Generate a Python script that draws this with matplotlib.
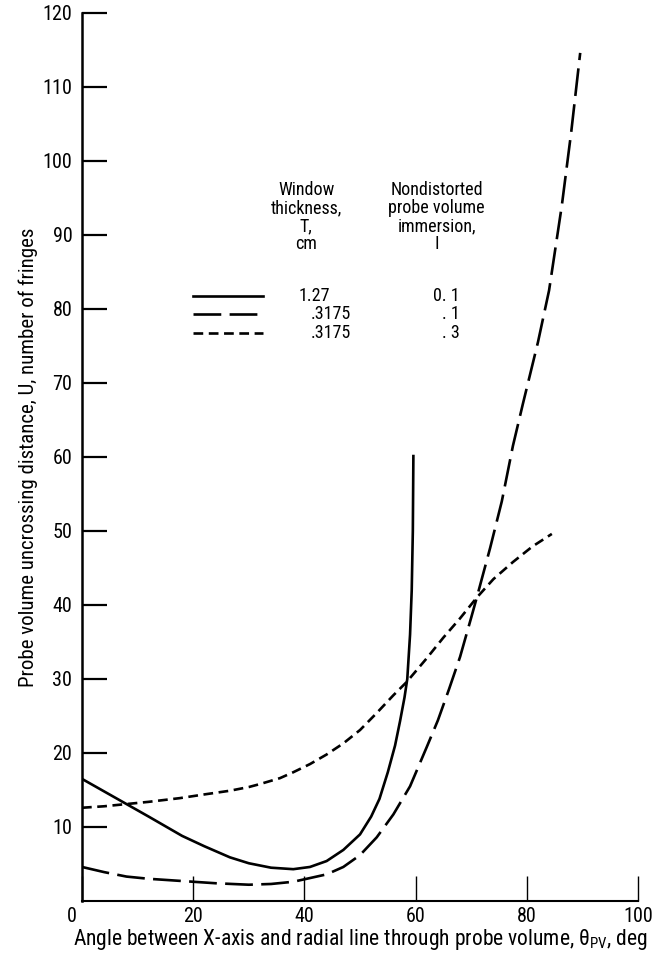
import matplotlib
matplotlib.use("Agg")
import matplotlib.pyplot as plt
import matplotlib.transforms as mtransforms

plt.rcParams['font.family'] = ['Roboto Condensed', 'DejaVu Sans']
plt.rcParams['mathtext.fontset'] = 'custom'
plt.rcParams['mathtext.rm'] = 'Roboto Condensed'
plt.rcParams['lines.scale_dashes'] = False

# Window thickness 1.27 cm, immersion 0.1
solid_x = [0, 4, 8, 12, 18, 22, 26.6, 30, 34, 38, 41, 44, 47, 50, 52, 53.5,
           55, 56.3, 57.2, 58, 58.5, 59, 59.3, 59.5, 59.6]
solid_y = [16.5, 14.8, 13.1, 11.4, 8.8, 7.4, 5.9, 5.1, 4.5, 4.3, 4.6, 5.4, 6.9,
           9.0, 11.4, 13.8, 17.4, 21.0, 24.3, 27.5, 30.0, 36.0, 42.0, 50.0, 60.3]

# Window thickness 0.3175 cm, immersion 0.1
long_x = [0, 4, 8, 12, 18, 24, 30, 34, 38, 41, 44, 47, 50, 53, 56, 59, 62, 64,
          66, 68, 70, 71, 73.4, 75.5, 77.5, 79.3, 82, 84, 86.3, 88, 89.6]
long_y = [4.6, 3.9, 3.3, 3.0, 2.7, 2.4, 2.2, 2.3, 2.6, 3.1, 3.6, 4.6, 6.2, 8.6,
          11.7, 15.5, 20.8, 24.4, 28.6, 33.0, 38.3, 41.0, 47.7, 54.0, 61.5, 67.2,
          75.5, 82.5, 94.0, 104.0, 114.6]

# Window thickness 0.3175 cm, immersion 0.3
short_x = [0, 4, 8, 12, 17.6, 22, 26.6, 30, 32, 35.6, 38, 41, 44, 47, 50, 53,
           56, 58.4, 62, 65, 68, 71, 74, 77.5, 81, 84.5]
short_y = [12.6, 12.8, 13.1, 13.4, 13.9, 14.4, 14.9, 15.4, 15.8, 16.6, 17.4, 18.5,
           19.8, 21.3, 23.1, 25.4, 27.8, 29.6, 32.8, 35.6, 38.2, 41.0, 43.5, 45.8,
           47.9, 49.6]

x_ticks = [0, 20, 40, 60, 80, 100]
y_ticks = [10, 20, 30, 40, 50, 60, 70, 80, 90, 100, 110, 120]

thickness_labels = ["1.27", ".3175", ".3175"]
immersion_labels = ["0. 1", ". 1", ". 3"]

LONG = (0, (20, 6))
SHORT = (0, (7, 4))
LW = 1.9

fig = plt.figure(figsize=(6.56, 9.58), dpi=100)
ax = fig.add_axes([0.125, 0.0595, 0.8476, 0.927])

ax.plot(solid_x, solid_y, color='black', lw=LW, solid_capstyle='butt')
ax.plot(long_x, long_y, color='black', lw=LW, linestyle=LONG, dash_capstyle='butt')
ax.plot(short_x, short_y, color='black', lw=LW, linestyle=SHORT, dash_capstyle='butt')

ax.set_xlim(0, 100)
ax.set_ylim(0, 120)
ax.spines['top'].set_visible(False)
ax.spines['right'].set_visible(False)
ax.spines['left'].set_linewidth(1.8)
ax.spines['bottom'].set_linewidth(1.5)

ax.set_xticks(x_ticks)
ax.set_yticks(y_ticks)
ax.set_xticklabels([str(v) for v in x_ticks])
ax.set_yticklabels([str(v) for v in y_ticks])
ax.tick_params(axis='y', direction='in', length=18, width=1.6, labelsize=14.5, pad=7)
ax.tick_params(axis='x', direction='in', length=18, width=1.0, labelsize=14.5, pad=4)

# nudge the "0" on the x axis left of the corner
first = ax.get_xticklabels()[0]
first.set_transform(first.get_transform() +
                    mtransforms.ScaledTranslation(-10 / 100, 0, fig.dpi_scale_trans))

ax.set_ylabel("Probe volume uncrossing distance, U, number of fringes",
              fontsize=15, labelpad=3)
ax.set_xlabel(r"Angle between X-axis and radial line through probe volume, θ$_{\rm PV}$, deg",
              fontsize=15.5, labelpad=1)

# key, placed in axes fraction
ax.text(0.403, 0.770, "Window\nthickness,\nT,\ncm", transform=ax.transAxes,
        ha='center', va='center', fontsize=13, linespacing=1.0)
ax.text(0.638, 0.770, "Nondistorted\nprobe volume\nimmersion,\nI", transform=ax.transAxes,
        ha='center', va='center', fontsize=13, linespacing=1.0)

styles = ['-', LONG, SHORT]
rows = [0.681, 0.661, 0.640]
for style, ry, tlab, ilab in zip(styles, rows, thickness_labels, immersion_labels):
    ax.plot([0.2, 0.326], [ry, ry], transform=ax.transAxes, color='black', lw=LW,
            linestyle=style, dash_capstyle='butt', clip_on=False)
    ax.text(0.412 if tlab.startswith('.') else 0.39, ry, tlab, transform=ax.transAxes,
            ha='left', va='center', fontsize=13)
    ax.text(0.68, ry, ilab, transform=ax.transAxes, ha='right', va='center', fontsize=13)

fig.savefig("out.png", dpi=100)
